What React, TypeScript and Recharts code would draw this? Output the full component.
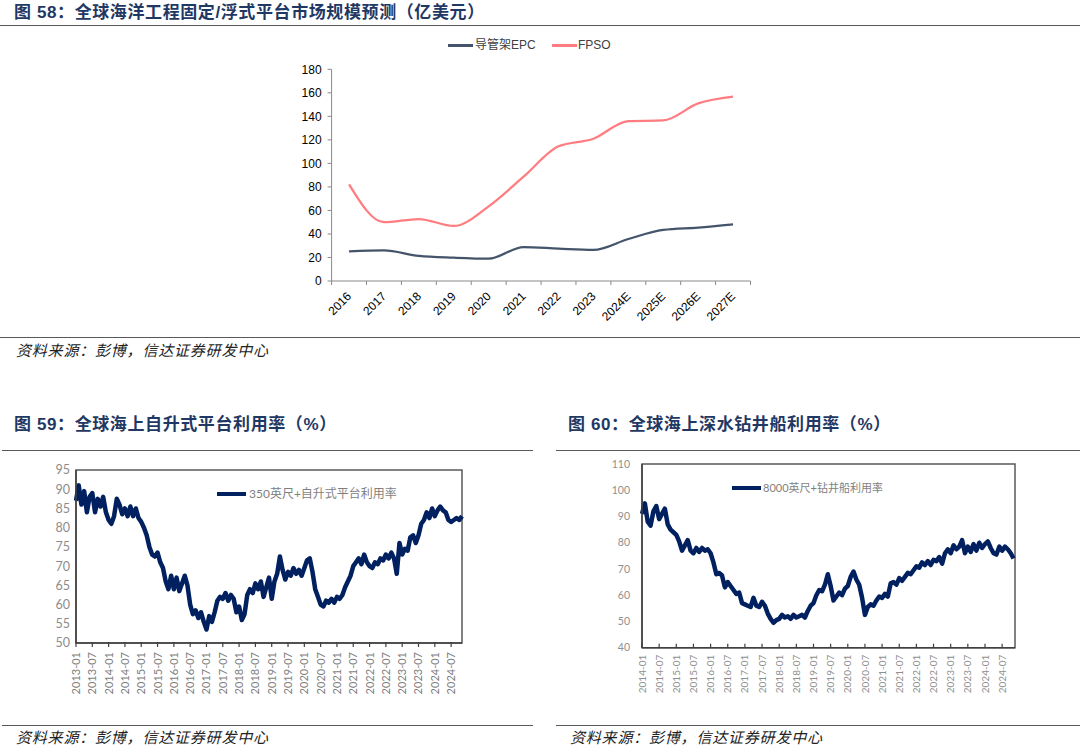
import React from 'react';
import { LineChart, Line, XAxis, YAxis, ReferenceArea } from 'recharts';

// ---------- text ----------
const title58 = '图 58：全球海洋工程固定/浮式平台市场规模预测（亿美元）';
const title59 = '图 59：全球海上自升式平台利用率（%）';
const title60 = '图 60：全球海上深水钻井船利用率（%）';
const sourceText = '资料来源：彭博，信达证券研发中心';

// ---------- chart 58 data ----------
const topCategories = ['2016', '2017', '2018', '2019', '2020', '2021', '2022', '2023', '2024E', '2025E', '2026E', '2027E'];
const epcValues = [25.2, 26, 21.3, 19.8, 19, 28.9, 27.5, 26.4, 35.7, 43.4, 45.4, 48.2];
const fpsoValues = [82.2, 50, 52.7, 46.8, 63.5, 88.7, 114.5, 121, 136, 136.5, 151, 156.8];
const topYTicks = [0, 20, 40, 60, 80, 100, 120, 140, 160, 180];
const epcName = '导管架EPC';
const fpsoName = 'FPSO';

// ---------- chart 59 data (monthly, 2013-01 .. 2024-11) ----------
const jackupValues = [
  87, 91, 86, 89.5, 84, 88, 89, 84, 87.5, 85.5, 88, 84,
  82, 81, 83, 87.5, 86, 83.5, 85, 83, 85.5, 83, 85, 82.5,
  81.5, 80, 78, 75, 73, 72.5, 73.5, 71, 69.5, 66, 64, 67.5,
  64, 67, 63.5, 65.5, 67.5, 65, 60, 57.5, 58.5, 56.5, 58, 55.5,
  53.5, 57, 55.5, 58, 61, 62, 61.5, 63, 61, 62.5, 61.5, 58,
  59.5, 56, 57.5, 62.5, 64, 63, 65.5, 64, 66, 62, 64.5, 67,
  61.5, 66, 68, 72.5, 69, 66.5, 68.5, 67.5, 69.5, 68, 69, 67.5,
  69.5, 71.5, 72, 68.5, 64, 62, 60, 59.5, 61, 60.5, 61.5, 60.5,
  62, 61.5, 62.5, 64.5, 66, 67.5, 70, 71, 72, 70.5, 73, 71,
  70, 69.5, 71, 70.5, 72, 71.5, 73, 72, 73.5, 72, 68, 76,
  73, 74.5, 74, 77.5, 78, 76, 78, 81, 82, 84, 82.5, 85,
  83, 84.5, 85.5, 84.5, 84, 82, 81.5, 82, 82.5, 82, 83,
];
const jackupTickLabels = [
  '2013-01', '2013-07', '2014-01', '2014-07', '2015-01', '2015-07', '2016-01', '2016-07',
  '2017-01', '2017-07', '2018-01', '2018-07', '2019-01', '2019-07', '2020-01', '2020-07',
  '2021-01', '2021-07', '2022-01', '2022-07', '2023-01', '2023-07', '2024-01', '2024-07',
];
const jackupYTicks = [50, 55, 60, 65, 70, 75, 80, 85, 90, 95];
const jackupName = '350英尺+自升式平台利用率';

// ---------- chart 60 data (monthly, 2014-01 .. 2024-11) ----------
const floaterValues = [
  91, 95, 88, 86.5, 92, 94, 89, 91, 93, 87, 85, 84,
  83, 80.5, 77, 79, 81, 77, 76, 78, 76.5, 78, 77, 77.5,
  76, 72.5, 68, 68.5, 67.5, 63, 65, 63.5, 62, 60.5, 61, 57,
  56.5, 56, 55.5, 59, 56, 55.5, 57.5, 56, 53, 51, 49.5, 50.5,
  51, 52.5, 51.5, 52, 51, 52.5, 51.5, 52, 52.5, 51.5, 54, 56,
  57, 60, 62, 61.5, 64, 68, 63.5, 58, 59.5, 61, 60, 62.5,
  63.5, 67, 69, 66, 64, 59, 52.5, 55.5, 56.5, 56, 58, 59.5,
  59, 60.5, 59.5, 64.5, 65, 64, 66.5, 65.5, 67, 68.5, 68, 69.5,
  71, 70.5, 72.5, 71.5, 73, 71.5, 73.5, 73, 74.5, 72, 76, 77.5,
  76, 79, 77.5, 78.5, 81, 76, 78.5, 76.5, 79.5, 77, 80, 78,
  79.5, 80.5, 78, 76, 75.5, 78.5, 77, 78.5, 77.5, 76, 74,
];
const floaterTickLabels = [
  '2014-01', '2014-07', '2015-01', '2015-07', '2016-01', '2016-07', '2017-01', '2017-07',
  '2018-01', '2018-07', '2019-01', '2019-07', '2020-01', '2020-07', '2021-01', '2021-07',
  '2022-01', '2022-07', '2023-01', '2023-07', '2024-01', '2024-07',
];
const floaterYTicks = [40, 50, 60, 70, 80, 90, 100, 110];
const floaterName = '8000英尺+钻井船利用率';

// ---------- styles ----------
const FONT_LAT = '"Liberation Sans", Arial, "Noto Sans CJK SC", sans-serif';
const FONT_CJK = '"Noto Sans CJK SC", sans-serif';
const FONT_CAL = 'Lato, "Noto Sans CJK SC", sans-serif';
const TITLE_COLOR = '#1f3864';
const NAVY = '#002060';
const EPC_COLOR = '#44546a';
const FPSO_COLOR = '#ff7c80';

const topData = topCategories.map((c, i) => ({ i, cat: c, epc: epcValues[i], fpso: fpsoValues[i] }));
const jackupData = jackupValues.map((v, m) => ({ m, v }));
const floaterData = floaterValues.map((v, m) => ({ m, v }));

const TOP_W = 520;
const TOP_H = 310;
const TOP_MARGIN = { top: 39.3, right: 19.5, bottom: 9, left: 0 };
const TOP_YAXIS_W = 81.6;
const TOP_BAND = (TOP_W - TOP_MARGIN.right - TOP_YAXIS_W) / topCategories.length;

function TopXTick(props: any) {
  const { x, y, payload, index } = props;
  const label = topCategories[payload.value];
  const half = TOP_BAND / 2;
  const last = index === topCategories.length - 1;
  const ax = x + 3;
  const ay = y + 16;
  return (
    <g>
      <line x1={x - half} x2={x - half} y1={y} y2={y + 4} stroke="#898989" />
      {last && <line x1={x + half} x2={x + half} y1={y} y2={y + 4} stroke="#898989" />}
      <text x={ax} y={ay} textAnchor="end" transform={`rotate(-45 ${ax} ${ay})`} fontSize={12} fill="#000" fontFamily={FONT_LAT}>
        {label}
      </text>
    </g>
  );
}

function makeMonthTick(labels: string[], fontSize: number, color: string, tickUp: boolean, gap: number) {
  return (props: any) => {
    const { x, y, payload } = props;
    const label = labels[Math.round(payload.value / 6)];
    const ay = y + gap;
    return (
      <g>
        <line x1={x} x2={x} y1={tickUp ? y - 4 : y - 1} y2={tickUp ? y : y + 4} stroke="#404040" strokeWidth={1.2} />
        <text x={x} y={ay} dy="0.36em" textAnchor="end" transform={`rotate(-90 ${x} ${ay})`} fontSize={fontSize} fill={color} fontFamily={FONT_CAL}>
          {label}
        </text>
      </g>
    );
  };
}

const JuTick = makeMonthTick(jackupTickLabels, 11, '#7f7f7f', false, 9);
const FlTick = makeMonthTick(floaterTickLabels, 10, '#8f8f8f', true, 7);

const abs = (left: number, top: number, extra: React.CSSProperties = {}): React.CSSProperties => ({
  position: 'absolute',
  left,
  top,
  ...extra,
});

const titleStyle: React.CSSProperties = {
  fontFamily: FONT_LAT,
  fontWeight: 'bold',
  fontSize: 17,
  lineHeight: '22px',
  color: TITLE_COLOR,
  letterSpacing: 0.6,
  whiteSpace: 'nowrap',
};

const sourceStyle: React.CSSProperties = {
  fontFamily: FONT_CJK,
  fontStyle: 'italic',
  fontSize: 15,
  lineHeight: '20px',
  color: '#222',
  letterSpacing: 0.8,
  whiteSpace: 'nowrap',
};

const hline = (left: number, top: number, width: number, color = '#595959', w = 1.5) => (
  <div style={abs(left, top, { width, height: 0, borderTop: `${w}px solid ${color}` })} />
);

export default function App() {
  return (
    <div style={{ position: 'absolute', left: 0, top: 0, width: 1080, height: 749, background: '#fff', overflow: 'hidden' }}>
      {/* ===== Figure 58 ===== */}
      <div style={abs(14, 2, titleStyle)}>{title58}</div>
      {hline(0, 25, 1080)}

      <div style={abs(448, 44, { width: 25, height: 2.5, background: EPC_COLOR })} />
      <div style={abs(475, 37, { fontFamily: FONT_LAT, fontSize: 12, lineHeight: '16px', color: '#404040', whiteSpace: 'nowrap' })}>{epcName}</div>
      <div style={abs(552, 44, { width: 25, height: 2.5, background: FPSO_COLOR })} />
      <div style={abs(578, 37, { fontFamily: FONT_LAT, fontSize: 12, lineHeight: '16px', color: '#404040', whiteSpace: 'nowrap' })}>{fpsoName}</div>

      <div style={abs(250, 30)}>
        <LineChart width={TOP_W} height={TOP_H} data={topData} margin={TOP_MARGIN}>
          <XAxis
            dataKey="i"
            type="number"
            domain={[-0.5, topCategories.length - 0.5]}
            ticks={topData.map((d) => d.i)}
            interval={0}
            tickSize={0}
            tickMargin={0}
            tickLine={false}
            axisLine={{ stroke: '#898989' }}
            tick={(p: any) => <TopXTick {...p} />}
            height={50}
          />
          <YAxis
            domain={[0, 180]}
            ticks={topYTicks}
            interval={0}
            width={TOP_YAXIS_W}
            tickSize={4}
            tickMargin={6}
            axisLine={{ stroke: '#898989' }}
            tickLine={{ stroke: '#898989' }}
            tick={{ fontSize: 12, fill: '#000', fontFamily: FONT_LAT }}
          />
          <Line dataKey="epc" type="monotone" stroke={EPC_COLOR} strokeWidth={2.25} dot={false} isAnimationActive={false} />
          <Line dataKey="fpso" type="monotone" stroke={FPSO_COLOR} strokeWidth={2.25} dot={false} isAnimationActive={false} />
        </LineChart>
      </div>

      {hline(0, 337, 1080)}
      <div style={abs(16, 340, sourceStyle)}>{sourceText}</div>

      {/* ===== Figure 59 ===== */}
      <div style={abs(14, 414, titleStyle)}>{title59}</div>
      {hline(2, 450, 531)}

      <div style={abs(0, 455)}>
        <LineChart width={540} height={260} data={jackupData} margin={{ top: 15, right: 78, bottom: 12, left: 0 }}>
          <XAxis
            dataKey="m"
            type="number"
            domain={[0, 142]}
            ticks={jackupTickLabels.map((_, k) => k * 6)}
            interval={0}
            tickSize={0}
            tickMargin={0}
            tickLine={false}
            axisLine={{ stroke: '#404040', strokeWidth: 1.5 }}
            tick={(p: any) => <JuTick {...p} />}
            height={60}
          />
          <YAxis
            domain={[50, 95]}
            ticks={jackupYTicks}
            interval={0}
            width={76}
            tickSize={0}
            tickMargin={6}
            tickLine={false}
            axisLine={{ stroke: '#404040', strokeWidth: 1.5 }}
            tick={{ fontSize: 12.5, fill: '#8c8c8c', fontFamily: FONT_CAL }}
          />
          <ReferenceArea x1={0} x2={142} y1={50} y2={95} fill="none" stroke="#595959" strokeWidth={1.5} ifOverflow="visible" />
          <Line dataKey="v" type="linear" stroke={NAVY} strokeWidth={4.5} strokeLinejoin="round" dot={false} isAnimationActive={false} />
        </LineChart>
      </div>
      <div style={abs(217, 492, { width: 29, height: 4, background: NAVY })} />
      <div style={abs(249, 486, { fontFamily: FONT_CAL, fontSize: 12, lineHeight: '16px', color: '#7f7f7f', whiteSpace: 'nowrap' })}>{jackupName}</div>

      {hline(2, 725, 531)}
      <div style={abs(16, 727, sourceStyle)}>{sourceText}</div>

      {/* ===== Figure 60 ===== */}
      <div style={abs(568, 414, titleStyle)}>{title60}</div>
      {hline(556, 450, 524)}

      <div style={abs(556, 450)}>
        <LineChart width={524} height={270} data={floaterData} margin={{ top: 14, right: 65, bottom: 12.3, left: 0 }}>
          <XAxis
            dataKey="m"
            type="number"
            domain={[0, 130.5]}
            ticks={floaterTickLabels.map((_, k) => k * 6)}
            interval={0}
            tickSize={0}
            tickMargin={0}
            tickLine={false}
            axisLine={{ stroke: '#404040', strokeWidth: 1.5 }}
            tick={(p: any) => <FlTick {...p} />}
            height={60}
          />
          <YAxis
            domain={[40, 110]}
            ticks={floaterYTicks}
            interval={0}
            width={86}
            tickSize={0}
            tickMargin={12}
            tickLine={false}
            axisLine={{ stroke: '#404040', strokeWidth: 1.5 }}
            tick={{ fontSize: 10.5, fill: '#8f8f8f', fontFamily: FONT_CAL }}
          />
          <ReferenceArea x1={0} x2={130.5} y1={40} y2={110} fill="none" stroke="#595959" strokeWidth={1.5} ifOverflow="visible" />
          <Line dataKey="v" type="linear" stroke={NAVY} strokeWidth={4.5} strokeLinejoin="round" dot={false} isAnimationActive={false} />
        </LineChart>
      </div>
      <div style={abs(732, 486, { width: 29, height: 4, background: NAVY })} />
      <div style={abs(763, 480, { fontFamily: FONT_CAL, fontSize: 11, lineHeight: '16px', color: '#7f7f7f', whiteSpace: 'nowrap' })}>{floaterName}</div>

      {hline(556, 725, 524)}
      <div style={abs(570, 727, sourceStyle)}>{sourceText}</div>
    </div>
  );
}
